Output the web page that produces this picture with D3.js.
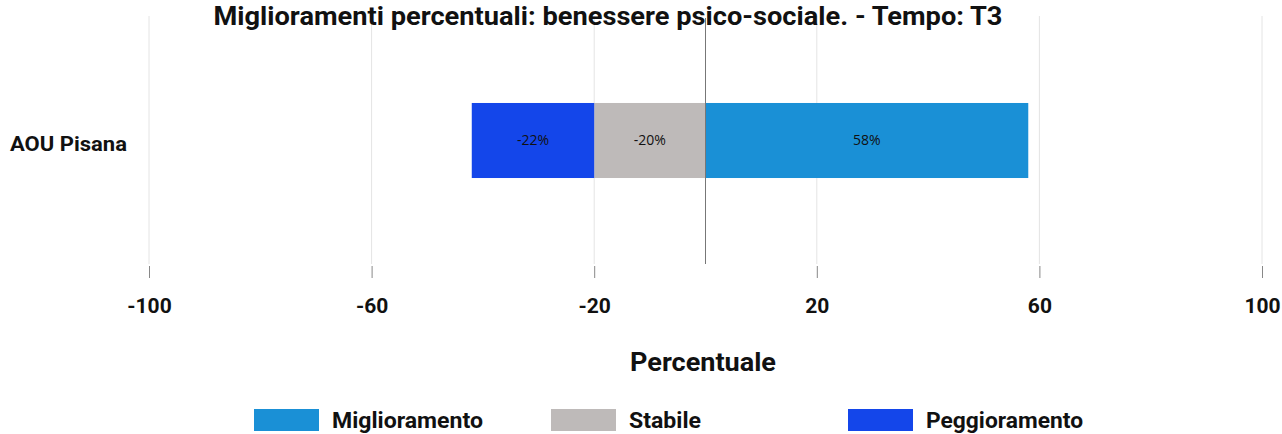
<!DOCTYPE html>
<html>
<head>
<meta charset="utf-8">
<script src="https://cdn.jsdelivr.net/npm/d3@7"></script>
<style>
  html, body { margin: 0; padding: 0; background: #fff; }
  svg { display: block; font-family: Roboto, "DejaVu Sans", sans-serif; }
</style>
</head>
<body>
<svg id="chart" width="1282" height="434"></svg>
<script>
// Structures and outcome categories
const categories = ["AOU Pisana"];
const seriesNames = ["Miglioramento", "Stabile", "Peggioramento"];
const miglioramento = [58];
const stabile = [-20];
const peggioramento = [-22];
const seriesColors = ["#1a90d6", "#bebab9", "#1446ea"];
const tickValues = [-100, -60, -20, 20, 60, 100];

const rows = categories.map((c, i) => ({
  cat: c,
  Miglioramento: miglioramento[i],
  Stabile: stabile[i],
  Peggioramento: peggioramento[i]
}));

const svg = d3.select("#chart");

const x = d3.scaleLinear().domain([-100, 100]).range([149, 1262]);
const y = d3.scaleBand().domain(categories).range([17, 264]).paddingInner(0.534).paddingOuter(0.534);
const color = d3.scaleOrdinal().domain(seriesNames).range(seriesColors);

const stacked = d3.stack()
  .keys(seriesNames)
  .offset(d3.stackOffsetDiverging)(rows);

// Vertical grid lines
svg.append("g")
  .selectAll("line")
  .data(tickValues)
  .join("line")
  .attr("x1", d => x(d)).attr("x2", d => x(d))
  .attr("y1", 16).attr("y2", 264)
  .attr("stroke", "#e4e4e4").attr("stroke-width", 1);

// Bars
const layers = svg.append("g")
  .selectAll("g")
  .data(stacked)
  .join("g")
  .attr("fill", d => color(d.key));

layers.selectAll("rect")
  .data(d => d.map(v => ({ v, key: d.key })))
  .join("rect")
  .attr("x", d => x(Math.min(d.v[0], d.v[1])))
  .attr("width", d => Math.abs(x(d.v[1]) - x(d.v[0])))
  .attr("y", d => y(d.v.data.cat))
  .attr("height", y.bandwidth());

// Value labels inside bars
layers.selectAll("text")
  .data(d => d.map(v => ({ v, key: d.key })))
  .join("text")
  .attr("x", d => (x(d.v[0]) + x(d.v[1])) / 2)
  .attr("y", d => y(d.v.data.cat) + y.bandwidth() / 2)
  .attr("dy", "0.35em")
  .attr("text-anchor", "middle")
  .attr("fill", "#111")
  .attr("font-family", "'Open Sans', 'Noto Sans', sans-serif")
  .attr("font-size", 14)
  .text(d => d.v.data[d.key] + "%");

// Zero line
svg.append("line")
  .attr("x1", x(0)).attr("x2", x(0))
  .attr("y1", 18).attr("y2", 264)
  .attr("stroke", "#777").attr("stroke-width", 1);

// Bottom axis (tick marks and labels, no domain line)
const xAxis = svg.append("g")
  .attr("transform", "translate(0,265)")
  .call(d3.axisBottom(x).tickValues(tickValues).tickSize(13).tickPadding(20).tickFormat(d => String(d)));
xAxis.select(".domain").remove();
xAxis.selectAll(".tick line").attr("stroke", "#888").attr("y1", 1);
xAxis.selectAll(".tick text")
  .attr("font-family", "Roboto, sans-serif")
  .attr("font-weight", 700)
  .attr("font-size", 21)
  .attr("fill", "#111");

// Category labels
svg.append("g")
  .selectAll("text")
  .data(categories)
  .join("text")
  .attr("x", 10)
  .attr("y", d => y(d) + y.bandwidth() / 2 + 3)
  .attr("dy", "0.35em")
  .attr("font-weight", 700)
  .attr("font-size", 21)
  .attr("fill", "#111")
  .attr("textLength", 117)
  .attr("lengthAdjust", "spacingAndGlyphs")
  .text(d => d);

// Title
svg.append("text")
  .attr("x", 608)
  .attr("y", 25)
  .attr("text-anchor", "middle")
  .attr("font-weight", 700)
  .attr("font-size", 25)
  .attr("fill", "#111")
  .attr("textLength", 789)
  .attr("lengthAdjust", "spacingAndGlyphs")
  .text("Miglioramenti percentuali: benessere psico-sociale. - Tempo: T3");

// Axis title
svg.append("text")
  .attr("x", 703)
  .attr("y", 371)
  .attr("text-anchor", "middle")
  .attr("font-weight", 700)
  .attr("font-size", 25)
  .attr("fill", "#111")
  .attr("textLength", 146)
  .attr("lengthAdjust", "spacingAndGlyphs")
  .text("Percentuale");

// Legend
const legendX = [254, 551, 848];
const legendTextLen = [151, 72, 157];
const legend = svg.append("g")
  .selectAll("g")
  .data(seriesNames)
  .join("g")
  .attr("transform", (d, i) => `translate(${legendX[i]},409)`);
legend.append("rect")
  .attr("width", 65).attr("height", 22)
  .attr("fill", d => color(d));
legend.append("text")
  .attr("x", 78)
  .attr("y", 11)
  .attr("dy", "0.35em")
  .attr("font-weight", 700)
  .attr("font-size", 22)
  .attr("fill", "#111")
  .attr("textLength", (d, i) => legendTextLen[i])
  .attr("lengthAdjust", "spacingAndGlyphs")
  .text(d => d);
</script>
</body>
</html>
